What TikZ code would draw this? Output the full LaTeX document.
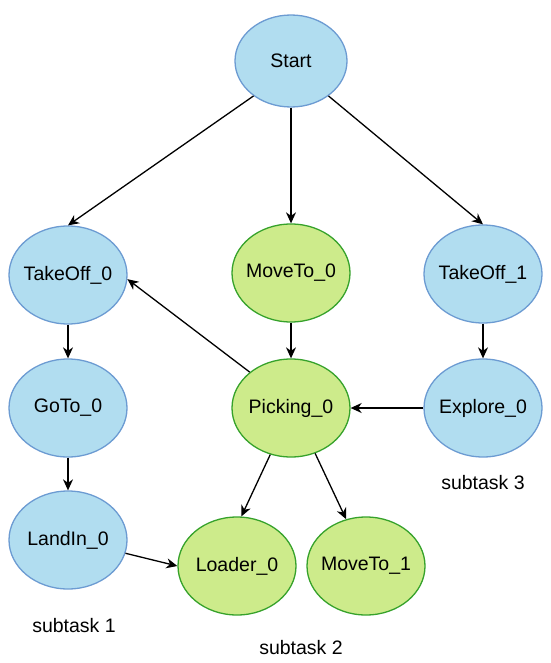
\documentclass[tikz,border=0pt]{standalone}
\usepackage{fontspec}
\setmainfont{Liberation Sans}
\usepackage{tikz}
\usetikzlibrary{arrows.meta,shapes.geometric}
\definecolor{bluef}{HTML}{B1DDF0}
\definecolor{blued}{HTML}{6C9BD2}
\definecolor{greenf}{HTML}{CDEB8B}
\definecolor{greend}{HTML}{36A22B}
\tikzset{
  ar/.style={-{Stealth[length=11pt,width=10pt,inset=3.5pt]},line width=1.3pt,black},
  bnd/.style={ellipse,draw=blued,line width=1.3pt,fill=bluef,minimum width=118pt,minimum height=98pt,inner xsep=-8pt,inner ysep=0pt,font=\fontsize{19.5}{22}\selectfont},
  gnd/.style={bnd,draw=greend,fill=greenf},
  note/.style={font=\fontsize{19.5}{22}\selectfont,inner sep=0pt}
}
\begin{document}
\begin{tikzpicture}[x=1pt,y=-1pt]
\useasboundingbox (0,0) rectangle (550,663);
\node[bnd,minimum width=112pt,minimum height=92pt] (start) at (291,61) {Start};
\node[bnd] (to0) at (68,275) {TakeOff\_0};
\node[gnd] (mv0) at (291,273) {MoveTo\_0};
\node[bnd] (to1) at (483,274) {TakeOff\_1};
\node[bnd] (goto0) at (68,408) {GoTo\_0};
\node[gnd] (pick0) at (291,408) {Picking\_0};
\node[bnd] (exp0) at (483,408) {Explore\_0};
\node[bnd] (land0) at (68,540) {LandIn\_0};
\node[gnd] (load0) at (237,566) {Loader\_0};
\node[gnd] (mv1) at (366,566) {MoveTo\_1};
\node[note] (st1) at (74,626) {subtask 1};
\node[note] (st2) at (301,648) {subtask 2};
\node[note] (st3) at (483,483) {subtask 3};
% edges
\draw[ar] (start.223) -- (to0.north);
\draw[ar] (start) -- (mv0);
\draw[ar] (start.317) -- (to1.north);
\draw[ar] (to0) -- (goto0);
\draw[ar] (goto0) -- (land0);
\draw[ar] (to1) -- (exp0);
\draw[ar] (mv0) -- (pick0);
\draw[ar] (exp0) -- (pick0);
\draw[ar] (pick0.139) -- (to0.-4);
\draw[ar] (pick0.246) -- (load0.85);
\draw[ar] (pick0.298) -- (mv1.113);
\draw[ar] (land0.-13) -- (load0.west);
\end{tikzpicture}
\end{document}
